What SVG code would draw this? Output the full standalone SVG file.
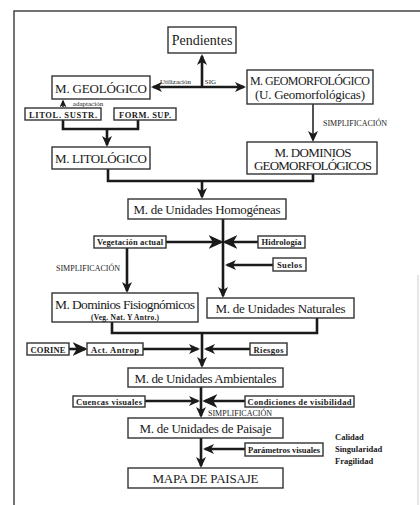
<svg xmlns="http://www.w3.org/2000/svg" width="420" height="505" viewBox="0 0 420 505">
<defs>
<marker id="ah" markerUnits="userSpaceOnUse" viewBox="0 0 11 10" markerWidth="11" markerHeight="10" refX="9" refY="5" orient="auto-start-reverse"><path d="M0,0 L11,5 L0,10 L3,5 z" fill="#1a1a1a"/></marker>
<marker id="ahs" markerUnits="userSpaceOnUse" viewBox="0 0 11 10" markerWidth="8" markerHeight="7" refX="9" refY="5" orient="auto-start-reverse"><path d="M0,0 L11,5 L0,10 L3,5 z" fill="#1a1a1a"/></marker>
<marker id="ahb" markerUnits="userSpaceOnUse" viewBox="0 0 11 10" markerWidth="15" markerHeight="15" refX="9" refY="5" orient="auto-start-reverse"><path d="M0,0 L11,5 L0,10 L3,5 z" fill="#1a1a1a"/></marker>
</defs>
<style>
.box{fill:#fff;stroke:#333;stroke-width:1.4}
.t{font-family:"Liberation Serif","Times New Roman",serif;fill:#1a1a1a;text-anchor:middle}
.big{font-size:13px}
.sm{font-size:8.5px;font-weight:bold}
.lab{font-size:7px}
.cap{font-size:8px}
.ln{fill:none;stroke:#1a1a1a;stroke-width:2.6}
.thin{fill:none;stroke:#1a1a1a;stroke-width:1.5}
.frame{fill:none;stroke:#444;stroke-width:1.5}
</style>
<rect width="420" height="505" fill="#fff"/>
<g id="frame">
<path class="frame" d="M14,505 V11 H420"/>
<path d="M418,275 V505" stroke="#ccc" stroke-width="1"/>
</g>
<g id="connectors">
<path class="ln" d="M202,87 V56" marker-end="url(#ah)"/>
<path class="ln" d="M153,87 H244" marker-start="url(#ah)" marker-end="url(#ah)"/>
<path class="thin" d="M63,107 V101" marker-end="url(#ahs)"/>
<path class="ln" d="M63,120 V129 H138 V120"/>
<path class="ln" d="M107,129 V145" marker-end="url(#ah)"/>
<path class="thin" d="M313,104 V140" marker-end="url(#ah)"/>
<path class="ln" d="M108,169 V181 H313 V174"/>
<path class="ln" d="M202,181 V197" marker-end="url(#ah)"/>
<path class="ln" d="M223,219 V296" marker-end="url(#ah)"/>
<path class="ln" d="M166,242 H221" marker-end="url(#ahb)"/>
<path class="ln" d="M258,242 H225" marker-end="url(#ahb)"/>
<path class="ln" d="M273,265 H227" marker-end="url(#ah)"/>
<path class="ln" d="M127,248 V291" marker-end="url(#ah)"/>
<path class="ln" d="M112,322 V333 H317 V318"/>
<path class="ln" d="M202,333 V366" marker-end="url(#ah)"/>
<path class="ln" d="M69,349 H85" marker-end="url(#ahb)"/>
<path class="ln" d="M143,349 H198" marker-end="url(#ah)"/>
<path class="ln" d="M250,349 H206" marker-end="url(#ah)"/>
<path class="ln" d="M201,387 V416" marker-end="url(#ah)"/>
<path class="ln" d="M145,401 H198" marker-end="url(#ah)"/>
<path class="ln" d="M245,401 H205" marker-end="url(#ahb)"/>
<path class="ln" d="M201,438 V466" marker-end="url(#ah)"/>
<path class="ln" d="M245,449 H205" marker-end="url(#ah)"/>
</g>
<g id="labels">
<text class="t lab" x="175.5" y="84" font-size="7.5">Utilización</text>
<text class="t lab" x="210.5" y="84" font-size="7.5">SIG</text>
<text class="t lab" x="88" y="106" font-size="8.5">adaptación</text>
<text class="t cap" x="355" y="126">SIMPLIFICACIÓN</text>
<text class="t cap" x="88" y="271">SIMPLIFICACIÓN</text>
<text class="t cap" x="240" y="416">SIMPLIFICACIÓN</text>
<text class="t sm" x="335" y="440" style="text-anchor:start">Calidad</text>
<text class="t sm" x="335" y="452" style="text-anchor:start">Singularidad</text>
<text class="t sm" x="335" y="463.5" style="text-anchor:start">Fragilidad</text>
</g>
<g id="pendientes"><rect class="box" x="168" y="27" width="68" height="26"/><text class="t" x="202" y="45" font-size="14">Pendientes</text></g>
<g id="geologico"><rect class="box" x="52" y="76" width="98" height="23"/><text class="t big" x="101" y="92.5" textLength="92">M. GEOLÓGICO</text></g>
<g id="geomorfologico"><rect class="box" x="247" y="70" width="126" height="34"/><text class="t" x="310" y="85" font-size="12" textLength="120">M. GEOMORFOLÓGICO</text><text class="t big" x="310" y="99" textLength="110">(U. Geomorfológicas)</text></g>
<g id="litol"><rect class="box" x="25" y="108" width="76" height="12"/><text class="t sm" x="63" y="117.5" textLength="68">LITOL. SUSTR.</text></g>
<g id="form"><rect class="box" x="114" y="108" width="62" height="12"/><text class="t sm" x="145" y="117.5" textLength="52">FORM. SUP.</text></g>
<g id="litologico"><rect class="box" x="52" y="147" width="98" height="22"/><text class="t big" x="101" y="163" textLength="92">M. LITOLÓGICO</text></g>
<g id="dominios"><rect class="box" x="247" y="142" width="130" height="32"/><text class="t big" x="313" y="156.5" textLength="77">M. DOMINIOS</text><text class="t big" x="313" y="170" textLength="118">GEOMORFOLÓGICOS</text></g>
<g id="homogeneas"><rect class="box" x="128" y="199" width="158" height="20"/><text class="t big" x="207" y="214" textLength="147">M. de Unidades Homogéneas</text></g>
<g id="vegetacion"><rect class="box" x="94" y="236" width="72" height="12"/><text class="t sm" x="130" y="245" textLength="66">Vegetación actual</text></g>
<g id="hidrologia"><rect class="box" x="258" y="236" width="47" height="12"/><text class="t sm" x="281.5" y="245" textLength="40">Hidrología</text></g>
<g id="suelos"><rect class="box" x="273" y="258" width="33" height="13"/><text class="t sm" x="289.5" y="267.5" textLength="25">Suelos</text></g>
<g id="fisiognomicos"><rect class="box" x="52" y="293" width="146" height="29"/><text class="t" x="125" y="309" font-size="13.5" textLength="140">M. Dominios Fisiognómicos</text><text class="t" x="125" y="319.5" font-size="7.5" font-weight="bold" textLength="68">(Veg. Nat. Y Antro.)</text></g>
<g id="naturales"><rect class="box" x="207" y="298" width="147" height="20"/><text class="t big" x="280.5" y="313" textLength="130">M. de Unidades Naturales</text></g>
<g id="corine"><rect class="box" x="27" y="343" width="42" height="12"/><text class="t sm" x="48" y="352.5" textLength="35">CORINE</text></g>
<g id="antrop"><rect class="box" x="87" y="343" width="56" height="12"/><text class="t sm" x="115" y="352.5" textLength="48">Act. Antrop</text></g>
<g id="riesgos"><rect class="box" x="250" y="343" width="37" height="12"/><text class="t sm" x="268.5" y="352.5" textLength="30">Riesgos</text></g>
<g id="ambientales"><rect class="box" x="128" y="368" width="155" height="19"/><text class="t big" x="205.5" y="382.5" textLength="142">M. de Unidades Ambientales</text></g>
<g id="cuencas"><rect class="box" x="73" y="396" width="72" height="11"/><text class="t sm" x="109" y="404.5" textLength="66">Cuencas visuales</text></g>
<g id="condiciones"><rect class="box" x="245" y="396" width="109" height="11"/><text class="t sm" x="299.5" y="404.5" textLength="104">Condiciones de visibilidad</text></g>
<g id="paisaje"><rect class="box" x="128" y="418" width="155" height="20"/><text class="t big" x="205.5" y="433" textLength="132">M. de Unidades de Paisaje</text></g>
<g id="parametros"><rect class="box" x="245" y="443" width="78" height="13"/><text class="t sm" x="284" y="452.5" textLength="72">Parámetros visuales</text></g>
<g id="mapa"><rect class="box" x="128" y="468" width="155" height="20"/><text class="t big" x="205.5" y="483" textLength="106">MAPA DE PAISAJE</text></g>
</svg>
